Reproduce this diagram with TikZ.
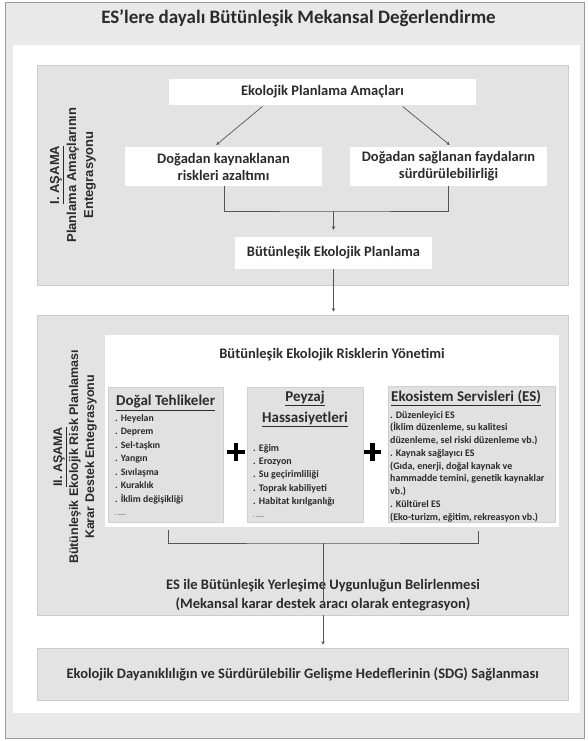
\documentclass[tikz,border=0pt]{standalone}
\usepackage{fontspec}
\setmainfont{Carlito}
\newfontfamily\labelfont{Liberation Sans}
\usetikzlibrary{arrows.meta,calc}
\definecolor{txt}{HTML}{2B2B2B}
\definecolor{outerbg}{HTML}{E9E9E9}
\definecolor{stagebg}{HTML}{E3E3E3}
\definecolor{subbg}{HTML}{E1E1E1}
\definecolor{edge}{HTML}{9A9A9A}
\definecolor{line}{HTML}{555555}
\begin{document}
\begin{tikzpicture}[x=1pt,y=-1pt,
  every node/.style={text=txt, inner sep=0pt},
  whitebox/.style={fill=white, draw=none, align=center, font=\fontsize{14.5}{17}\selectfont\bfseries},
  stagebox/.style={fill=stagebg, draw=stagebg!90!black, line width=0.6pt},
  subbox/.style={fill=subbg, draw=subbg!92!black, line width=0.5pt},
  conn/.style={draw=line, line width=0.7pt},
  arr/.style={conn, -{Stealth[length=3.5pt,width=3.5pt]}},
  itemtxt/.style={align=left, anchor=north west, font=\fontsize{9.8}{13.5}\selectfont\bfseries},
  subtitle/.style={font=\fontsize{15}{21}\selectfont\bfseries},
  plusbar/.style={draw=black, line width=4.5pt},
  stagelabel/.style={rotate=90, align=center, font=\labelfont\bfseries}
]
\useasboundingbox (0,0) rectangle (588,741);
% outer frame
\fill[white] (0,0) rectangle (588,741);
\draw[fill=outerbg, draw=edge, line width=0.8pt] (5,2) rectangle (584,738);
\fill[white] (13,45) rectangle (580,713);
\node[font=\fontsize{19}{22}\selectfont\bfseries] (title) at (298.5,18) {ES’lere dayalı Bütünleşik Mekansal Değerlendirme};

% stage I
\node[stagebox, minimum width=530.5pt, minimum height=220pt] (s1) at (302.75,175) {};
\node[stagelabel, font=\labelfont\bfseries\fontsize{13}{17}\selectfont] (l1) at (73,175) {\underline{I. AŞAMA}\\Planlama Amaçlarının\\Entegrasyonu};
\node[whitebox, minimum width=307pt, minimum height=26pt] (epa) at (322.5,92) {Ekolojik Planlama Amaçları};
\node[whitebox, minimum width=197pt, minimum height=39pt] (lb) at (223.5,166.5) {Doğadan kaynaklanan\\riskleri azaltımı};
\node[whitebox, minimum width=197pt, minimum height=39pt] (rb) at (448.5,166.5) {Doğadan sağlanan faydaların\\sürdürülebilirliği};
\node[whitebox, minimum width=197pt, minimum height=32pt] (bep) at (333.5,253) {Bütünleşik Ekolojik Planlama};
\draw[arr, shorten <=2pt, shorten >=3pt] ([xshift=-58.5pt]epa.south) -- ([xshift=-9.5pt]lb.north);
\draw[arr, shorten <=2pt, shorten >=3pt] ([xshift=78.5pt]epa.south) -- ([xshift=3.5pt]rb.north);
\coordinate (b1) at (333.5,211);
\draw[conn] ([xshift=0.5pt]lb.south) |- (b1) -| (rb.south);
\draw[arr, shorten >=7pt] (b1) -- (bep.north);

% stage II
\node[stagebox, minimum width=530.5pt, minimum height=300pt] (s2) at (302.75,465) {};
\draw[arr, shorten <=0pt, shorten >=3pt] (bep.south) -- (bep.south |- s2.north);
\node[stagelabel, font=\labelfont\bfseries\fontsize{12.5}{16}\selectfont] (l2) at (75,457) {\underline{II. AŞAMA}\\Bütünleşik Ekolojik Risk Planlaması\\Karar Destek Entegrasyonu};
\node[fill=white, minimum width=454pt, minimum height=192pt] (wb) at (332,431) {};
\node[font=\fontsize{14.5}{17}\selectfont\bfseries] (rt) at (332,355) {Bütünleşik Ekolojik Risklerin Yönetimi};

\node[subbox, minimum width=115pt, minimum height=135pt] (sa) at (165.5,454.5) {};
\node[subbox, minimum width=116pt, minimum height=135pt] (sb) at (305,454.5) {};
\node[subbox, minimum width=167pt, minimum height=136pt] (sc) at (471.5,454) {};

\node[subtitle, anchor=west] (ta) at (116,403) {\underline{Doğal Tehlikeler}};
\node[itemtxt] (ia) at (115,414) {. Heyelan\\. Deprem\\. Sel-taşkın\\. Yangın\\. Sıvılaşma\\. Kuraklık\\. İklim değişikliği\\[0pt]{\fontsize{5}{6}\selectfont . ......}};

\node[subtitle, align=center] (tb) at (305,409) {\underline{Peyzaj}\\\underline{Hassasiyetleri}};
\node[itemtxt, font=\fontsize{10}{13.3}\selectfont\bfseries] (ib) at (253,444) {. Eğim\\. Erozyon\\. Su geçirimliliği\\. Toprak kabiliyeti\\. Habitat kırılganlığı\\[0pt]{\fontsize{5}{6}\selectfont . ......}};

\node[subtitle, anchor=west] (tc) at (391,398) {\underline{Ekosistem Servisleri (ES)}};
\node[itemtxt, font=\fontsize{10}{12.75}\selectfont\bfseries] (ic) at (390,411) {. Düzenleyici ES\\(İklim düzenleme, su kalitesi\\düzenleme, sel riski düzenleme vb.)\\. Kaynak sağlayıcı ES\\(Gıda, enerji, doğal kaynak ve\\hammadde temini, genetik kaynaklar\\vb.)\\. Kültürel ES\\(Eko-turizm, eğitim, rekreasyon vb.)};

\node[minimum size=17pt] (p1) at (236,452) {};
\draw[plusbar] (p1.west) -- (p1.east) (p1.north) -- (p1.south);
\node[minimum size=17pt] (p2) at (372.5,452) {};
\draw[plusbar] (p2.west) -- (p2.east) (p2.north) -- (p2.south);

\coordinate (b2l) at (168,530);
\coordinate (b2r) at (478,531);
\coordinate (b2m) at (323,543);
\draw[conn] (b2l) |- (b2m) -| (b2r);
\node[font=\fontsize{14.5}{18.5}\selectfont\bfseries, align=center] (es) at (323,595) {ES ile Bütünleşik Yerleşime Uygunluğun Belirlenmesi\\(Mekansal karar destek aracı olarak entegrasyon)};
\draw[conn] (b2m) -- ([yshift=-24pt]es.north);

% final
\node[stagebox, minimum width=530.5pt, minimum height=52pt, font=\fontsize{14.5}{17}\selectfont\bfseries] (fin) at (302.75,674) {Ekolojik Dayanıklılığın ve Sürdürülebilir Gelişme Hedeflerinin (SDG) Sağlanması};
\draw[arr, shorten >=3pt] (es.center |- s2.south) -- (es.center |- fin.north);
\end{tikzpicture}
\end{document}
